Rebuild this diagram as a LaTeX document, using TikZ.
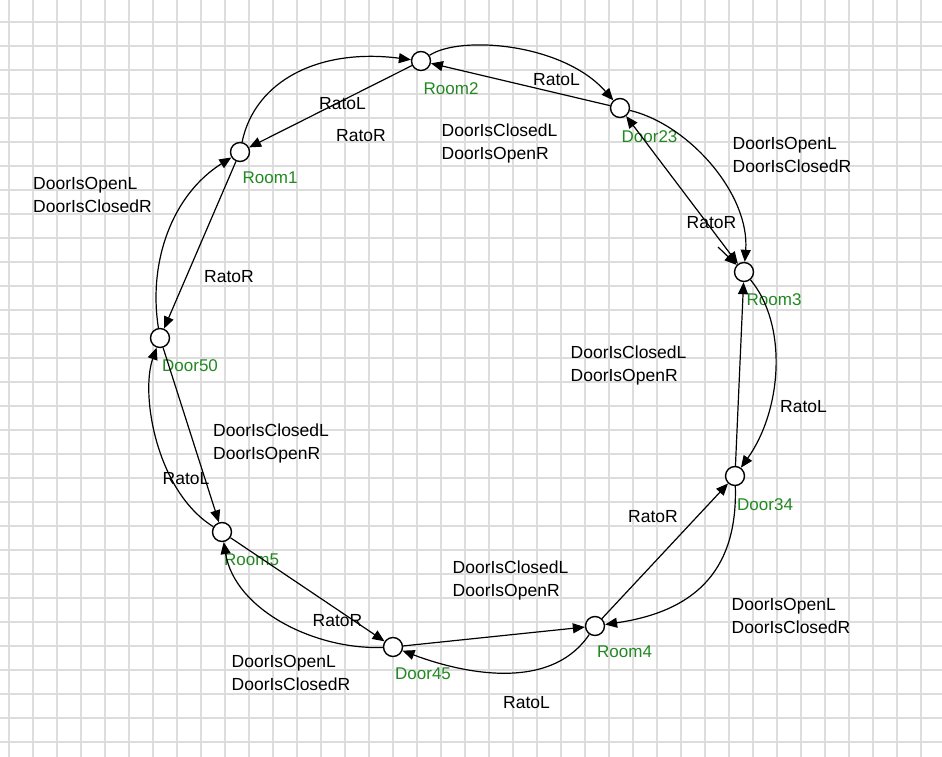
\documentclass[tikz,border=0pt]{standalone}
\usepackage{fontspec}
\setmainfont{Liberation Sans}
\usetikzlibrary{arrows.meta}
\definecolor{gridc}{RGB}{221,221,221}
\definecolor{lblgreen}{RGB}{34,136,34}
\begin{document}
\begin{tikzpicture}[x=1pt,y=-1pt,
  st/.style={circle,draw,line width=1.4pt,fill=white,minimum size=19pt,inner sep=0pt},
  nm/.style={anchor=north west,inner sep=0pt,text=lblgreen,font=\fontsize{17}{22}\selectfont},
  lbl/.style={anchor=north west,inner sep=0pt,align=left,font=\fontsize{17.5}{22.7}\selectfont},
  conn/.style={line width=1.2pt,-{Triangle[length=12pt,width=10pt]}},
  biconn/.style={line width=1.2pt,{Triangle[length=12pt,width=10pt]}-{Triangle[length=12pt,width=10pt]}},
]
\useasboundingbox (0,0) rectangle (942,757);
\fill[white] (0,0) rectangle (942,757);
\foreach \x in {9,33,...,921} \draw[gridc,line width=2pt] (\x,0) -- (\x,757);
\foreach \y in {22,46,...,742} \draw[gridc,line width=2pt] (0,\y) -- (942,\y);

% states
\node[st] (room1) at (240,152) {};
\node[st] (room2) at (421,61) {};
\node[st] (door23) at (620,108) {};
\node[st] (room3) at (744,272) {};
\node[st] (door34) at (735,476) {};
\node[st] (room4) at (595,626) {};
\node[st] (door45) at (393,647) {};
\node[st] (room5) at (222,532) {};
\node[st] (door50) at (160,338) {};

% state names
\node[nm] (room1l) at (242.5,172) {Room1};
\node[nm] (room2l) at (423.5,82) {Room2};
\node[nm] (door23l) at (621.5,130) {Door23};
\node[nm] (room3l) at (746.5,293) {Room3};
\node[nm] (door34l) at (737,498) {Door34};
\node[nm] (room4l) at (597,646) {Room4};
\node[nm] (door45l) at (395,668) {Door45};
\node[nm] (room5l) at (224,554) {Room5};
\node[nm] (door50l) at (162,359) {Door50};

% Room1 -- Room2
\draw[conn] (room1) .. controls (255,80) and (320,48) .. (room2);
\draw[conn] (room2) -- (room1);
% Room2 -- Door23
\draw[conn] (room2) .. controls (460,35) and (563,43) .. (door23);
\draw[conn] (door23) -- (room2);
% Door23 -- Room3
\draw[conn] (door23) .. controls (690,125) and (750,195) .. (room3);
\draw[biconn] (door23) -- (room3);
\coordinate (stub) at (718,247);
\draw[conn] (stub) -- (room3);
% Room3 -- Door34
\draw[conn] (room3) .. controls (788,325) and (782,410) .. (door34);
\draw[conn] (door34) -- (room3);
% Door34 -- Room4
\draw[conn] (door34) .. controls (738,575) and (690,612) .. (room4);
\draw[conn] (room4) -- (door34);
% Room4 -- Door45
\draw[conn] (room4) .. controls (545,700) and (440,665) .. (door45);
\draw[conn] (door45) -- (room4);
% Door45 -- Room5
\draw[conn] (door45) .. controls (315,650) and (235,610) .. (room5);
\draw[conn] (room5) -- (door45);
% Room5 -- Door50
\draw[conn] (room5) .. controls (157,492) and (140,395) .. (door50);
\draw[conn] (door50) -- (room5);
% Door50 -- Room1
\draw[conn] (door50) .. controls (148,262) and (172,195) .. (room1);
\draw[conn] (room1) -- (door50);

% transition labels
\node[lbl] (t1) at (33,177) {DoorIsOpenL\\DoorIsClosedR};
\node[lbl] (t2) at (319,97) {RatoL};
\node[lbl] (t3) at (336,129) {RatoR};
\node[lbl] (t4) at (441.5,124) {DoorIsClosedL\\DoorIsOpenR};
\node[lbl] (t5) at (533,73) {RatoL};
\node[lbl] (t6) at (732.5,137) {DoorIsOpenL\\DoorIsClosedR};
\node[lbl] (t7) at (686.5,216.5) {RatoR};
\node[lbl] (t8) at (570.5,346) {DoorIsClosedL\\DoorIsOpenR};
\node[lbl] (t9) at (780,400) {RatoL};
\node[lbl] (t10) at (628,510.5) {RatoR};
\node[lbl] (t11) at (731.5,598) {DoorIsOpenL\\DoorIsClosedR};
\node[lbl] (t12) at (452.5,561) {DoorIsClosedL\\DoorIsOpenR};
\node[lbl] (t13) at (312.5,614) {RatoR};
\node[lbl] (t14) at (231.5,655) {DoorIsOpenL\\DoorIsClosedR};
\node[lbl] (t15) at (503,696.5) {RatoL};
\node[lbl] (t16) at (204,270) {RatoR};
\node[lbl] (t17) at (213,424) {DoorIsClosedL\\DoorIsOpenR};
\node[lbl] (t18) at (162.5,472.5) {RatoL};
\end{tikzpicture}
\end{document}
